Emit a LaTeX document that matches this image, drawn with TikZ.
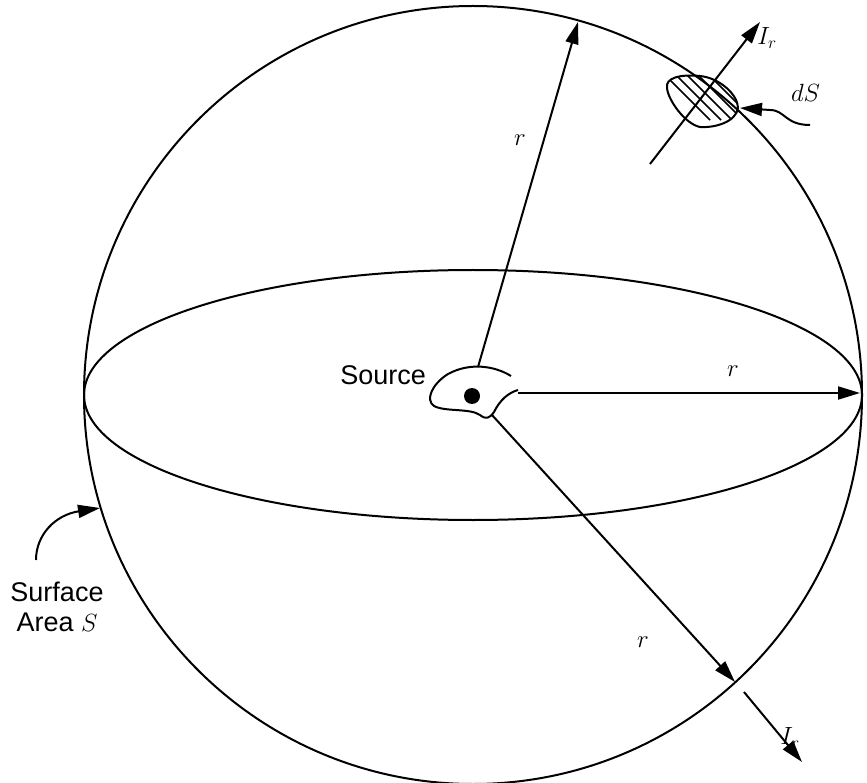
\documentclass[tikz,border=0pt]{standalone}
\usepackage{fontspec}
\setmainfont{Liberation Sans}
\usetikzlibrary{arrows.meta}
\begin{document}
\begin{tikzpicture}[x=1pt,y=-1pt,line width=2pt,
  arr/.style={-{Triangle[length=22pt,width=13pt]}},
  lbl/.style={font=\fontsize{27}{30}\selectfont,inner sep=0pt}]
\useasboundingbox (0,0) rectangle (867,783);
\draw (473,395) circle[radius=389];
\draw (473,395) ellipse[x radius=389, y radius=125];
% source blob
\draw (511,376) .. controls (495,366) and (470,362) .. (448,374)
  .. controls (432,384) and (425,400) .. (434,406)
  .. controls (445,412) and (470,408) .. (480,415)
  .. controls (486,420) and (490,418) .. (494,412)
  .. controls (500,400) and (508,393) .. (518,390);
\fill (472,396) circle[radius=8];
\coordinate (s1) at (478,367);
\coordinate (s2) at (518,393);
\coordinate (s3) at (492,415);
\coordinate (t1) at (578,22);
\coordinate (t2) at (860,393);
\coordinate (t3) at (735,682);
\draw[arr] (s1) -- (t1);
\draw[arr] (s2) -- (t2);
\draw[arr] (s3) -- (t3);
\coordinate (b1) at (744,692);
\coordinate (b2) at (802,762);
\draw[arr] (b1) -- (b2);
\node[lbl] at (520,140) {$r$};
\node[lbl] at (733,371) {$r$};
\node[lbl] at (643,642) {$r$};
\node[lbl] at (790,738) {$I_r$};
\node[lbl] at (767,38) {$I_r$};
\node[lbl,anchor=east] at (427,375) {Source};
% patch
\begin{scope}
\clip (667,88) .. controls (665,78) and (680,74) .. (700,76)
  .. controls (720,78) and (738,95) .. (738,108)
  .. controls (736,122) and (715,128) .. (700,127)
  .. controls (685,124) and (668,100) .. (667,88);
\foreach \i in {0,...,6}
  \draw[line width=1.5pt] (650+\i*11,60) -- ++(60,60);
\end{scope}
\draw (667,88) .. controls (665,78) and (680,74) .. (700,76)
  .. controls (720,78) and (738,95) .. (738,108)
  .. controls (736,122) and (715,128) .. (700,127)
  .. controls (685,124) and (668,100) .. (667,88);
\coordinate (p1) at (650,164);
\coordinate (p2) at (760,22);
\draw[arr] (p1) -- (p2);
\coordinate (d1) at (810,125);
\coordinate (d2) at (740,108);
\draw[arr] (d1) .. controls (785,125) and (785,110) .. (770,110) -- (d2);
\node[lbl,anchor=west] at (790,93) {$dS$};
% surface
\coordinate (q1) at (36,560);
\coordinate (q2) at (100,508);
\draw[arr] (q1) .. controls (36,535) and (55,515) .. (q2);
\node[lbl,align=center] at (57,607) {Surface\\Area $S$};
\end{tikzpicture}
\end{document}
